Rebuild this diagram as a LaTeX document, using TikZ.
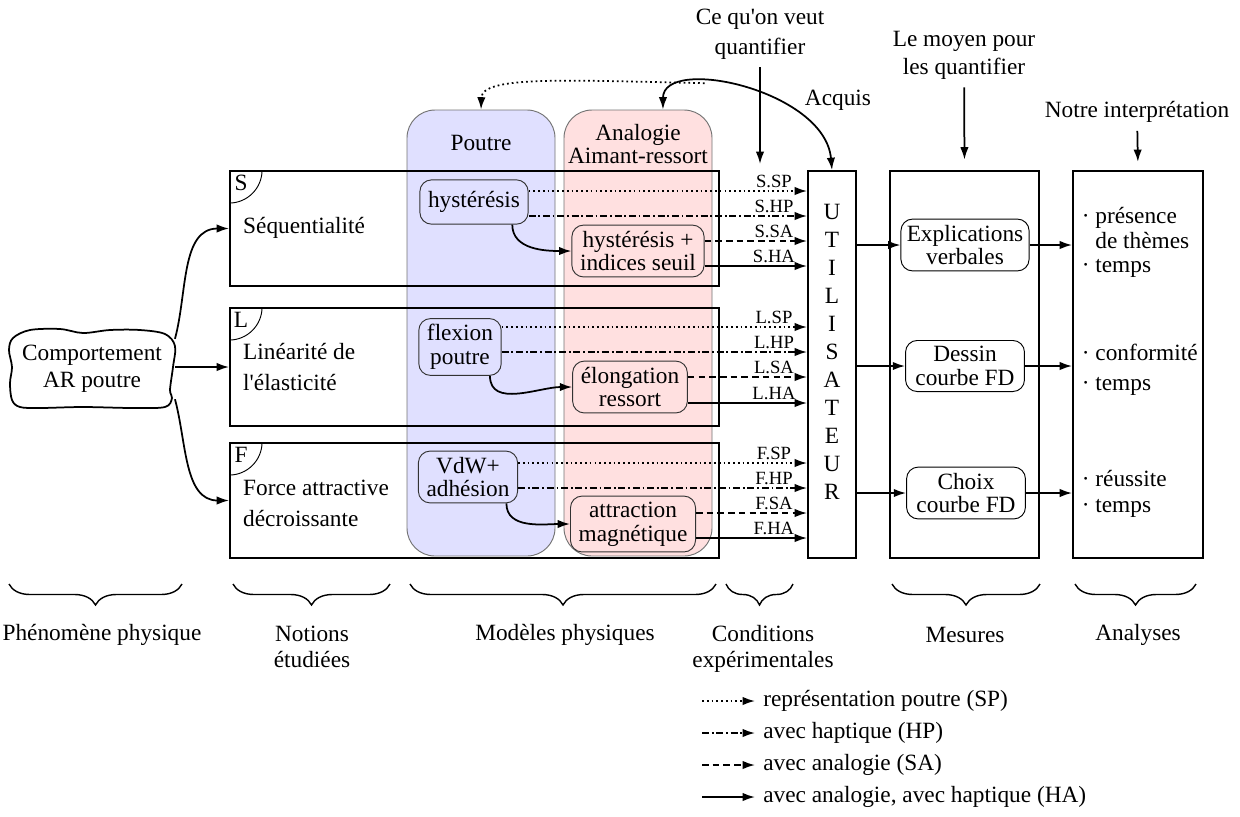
\documentclass[tikz,border=0pt]{standalone}
\usepackage{fontspec}
\setmainfont{Liberation Serif}
\usetikzlibrary{arrows.meta,positioning,fit,decorations.pathreplacing}
\tikzset{
  lx/.tip={Latex[length=5.3pt,width=3.6pt]},
  arr/.style={-lx, line width=0.75pt},
  sp/.style={arr, dash pattern=on 0.75pt off 1.3pt},
  hp/.style={arr, dash pattern=on 3pt off 1.2pt on 0.75pt off 1.2pt},
  sa/.style={arr, dash pattern=on 2.8pt off 1.8pt},
  ha/.style={arr},
  lbl/.style={pos=1, above, xshift=-14.2pt, inner sep=1pt, font=\footnotesize},
  tight/.style={align=center, font=\fontsize{10}{10.2}\selectfont},
  loose/.style={align=center, font=\fontsize{10}{12.8}\selectfont},
  notion/.style={draw, thick, inner sep=0pt},
  bigbox/.style={draw, thick, inner sep=0pt},
  colP/.style={draw=black!55, fill=blue!12, rounded corners=12pt, inner sep=0pt},
  colA/.style={draw=black!55, fill=red!12, rounded corners=12pt, inner sep=0pt},
  mdl/.style={tight, draw=black!80, rounded corners=5pt, inner xsep=3.5pt, inner ysep=2.5pt, minimum height=19pt},
  mdlP/.style={mdl, fill=blue!12},
  mdlA/.style={mdl, fill=red!12},
  mes/.style={tight, draw, fill=white, rounded corners=5pt, minimum width=51pt, inner sep=2.5pt},
  phen/.style={align=center, minimum width=70.8pt, minimum height=33.5pt, font=\fontsize{10}{11.6}\selectfont},
  brc/.style={decorate, decoration={brace, mirror, amplitude=9pt}, semithick}
}

\begin{document}
\begin{tikzpicture}[x=0.429pt, y=-0.429pt]
  \useasboundingbox (0,0) rectangle (1240,816);

  % model columns
  \node[colP, fit={(407,110) (555,556)}] (P) {};
  \node[colA, fit={(564,110) (712,556)}] (A) {};
  \node (Pt) at (481,143) {Poutre};
  \node[tight] (At) at (638,144) {Analogie\\Aimant-ressort};

  % notions
  \foreach \n/\yt/\yb in {S/171/286, L/308/426, F/443/558}{
    \node[notion, fit={(230,\yt) (719,\yb)}] (\n) {};
    \draw (\n.north west) ++(33,0) arc[start angle=0, end angle=90, radius=33];
    \node (\n l) at ([shift={(12,13)}]\n.north west) {\n};
  }
  \node[anchor=west] (St) at (235,228) {Séquentialité};
  \node[anchor=west, align=left, font=\fontsize{10}{13.3}\selectfont] (Lt) at (235,367) {Linéarité de\\l\textquotesingle élasticité};
  \node[anchor=west, align=left, font=\fontsize{10}{13.3}\selectfont] (Ft) at (235,503) {Force attractive\\décroissante};

  % phenomene
  \node[phen] (cl) at (92,369) {Comportement\\AR poutre};
  \draw[line width=0.75pt] plot[smooth cycle, tension=0.55] coordinates {
    (13,338) (30,330) (60,329) (83,333) (110,330) (140,330) (165,334) (175,346)
    (173,367) (170,390) (172,398) (165,407) (133,408) (83,407) (40,408) (20,407)
    (12,400) (10,383) (12,367) (9,350)};
  \draw[arr] (cl.20) to[out=75, in=180] (S.west);
  \draw[arr] (cl.east |- L.west) -- (L.west);
  \draw[arr] (cl.-20) to[out=-75, in=180] (F.west);

  % models
  \node[mdlP] (hys) at (474,202) {hystérésis};
  \node[mdlA] (hysA) at (638,251) {hystérésis +\\indices seuil};
  \node[mdlP] (flex) at (460,347) {flexion\\poutre};
  \node[mdlA] (elong) at (630,387) {élongation\\ressort};
  \node[mdlP] (vdw) at (468,477) {VdW+\\adhésion};
  \node[mdlA] (attr) at (633,524) {attraction\\magnétique};
  \draw[ha] ([xshift=-7pt]hys.south east) to[out=-90, in=180] (hysA.west);
  \draw[ha] ([xshift=-5pt]flex.south east) to[out=-90, in=180] (elong.west);
  \draw[ha] ([xshift=-5pt]vdw.south east) to[out=-90, in=180] (attr.west);

  % utilisateur
  \node[bigbox, fit={(808,171) (856,558)}] (U) {};
  \node[align=center] (Ut) at (832,352) {U\\T\\I\\L\\I\\S\\A\\T\\E\\U\\R};

  % conditions
  \foreach \r/\p/\a/\ya/\yb/\yc/\yd in {S/hys/hysA/191/216/241/266, L/flex/elong/327/352/377/403, F/vdw/attr/463/488/513/538}{
    \draw[sp] (\p.east |- 0,\ya) -- (U.west |- 0,\ya) node[lbl] {\r.SP};
    \draw[hp] (\p.east |- 0,\yb) -- (U.west |- 0,\yb) node[lbl] {\r.HP};
    \draw[sa] (\a.east |- 0,\yc) -- (U.west |- 0,\yc) node[lbl] {\r.SA};
    \draw[ha] (\a.east |- 0,\yd) -- (U.west |- 0,\yd) node[lbl] {\r.HA};
  }

  % acquis
  \draw[line width=0.75pt, lx-lx] ([xshift=10.7pt]A.north) .. controls (663,55) and (825,90) .. (U.north)
    coordinate[pos=0.33] (top);
  \draw[sp] (top) .. controls (560,80) and (482,76) .. (P.north);
  \node (acq) at (838,100) {Acquis};

  % mesures
  \node[bigbox, fit={(890,171) (1039,558)}] (M) {};
  \node[mes] (ex) at (965,245) {Explications\\verbales};
  \node[mes] (de) at (965,366) {Dessin\\courbe FD};
  \node[mes] (ch) at (966,493) {Choix\\courbe FD};

  % analyses
  \node[bigbox, fit={(1073,171) (1203,558)}] (An) {};
  \foreach \m in {ex,de,ch}{
    \draw[ha] (U.east |- \m) -- (\m);
    \draw[ha] (\m) -- (An.west |- \m);
  }
  \node[anchor=west, align=left, inner sep=1pt, font=\fontsize{10}{10.8}\selectfont] (a1) at (1079,228) {· présence\\\phantom{· }de thèmes};
  \node[anchor=west, inner sep=1pt] (a2) at (1079,268) {· temps};
  \node[anchor=west, inner sep=1pt] (a3) at (1079,352) {· conformité};
  \node[anchor=west, inner sep=1pt] (a4) at (1079,386) {· temps};
  \node[anchor=west, inner sep=1pt] (a5) at (1079,478) {· réussite};
  \node[anchor=west, inner sep=1pt] (a6) at (1079,508) {· temps};

  % top labels
  \node[loose] (cq) at (760,34) {Ce qu\textquotesingle on veut\\quantifier};
  \coordinate (cqend) at (760,164);
  \draw[arr] (cq) -- (cqend);
  \node[align=center] (mp) at (964,55) {Le moyen pour\\les quantifier};
  \draw[arr, shorten >=4.5pt] (mp) -- (M.north);
  \node (ni) at (1137,112) {Notre interprétation};
  \draw[arr, shorten >=3.5pt] (ni) -- (An.north);

  % braces
  \foreach \xa/\xb in {9/182, 233/390, 410/716, 726/793, 892/1040, 1075/1196}
    \draw[brc] (\xa,584) -- (\xb,584);
  \node (b1) at (102,635) {Phénomène physique};
  \node[tight, font=\fontsize{10}{11}\selectfont] (b2) at (312,647) {Notions\\étudiées};
  \node (b3) at (565,635) {Modèles physiques};
  \node[tight, font=\fontsize{10}{11.2}\selectfont] (b4) at (763,649) {Conditions\\expérimentales};
  \node (b5) at (965,635) {Mesures};
  \node (b6) at (1138,635) {Analyses};

  % legend
  \foreach \i/\st/\yy/\txt in {1/sp/701/{représentation poutre (SP)}, 2/hp/733/{avec haptique (HP)}, 3/sa/765/{avec analogie (SA)}, 4/ha/797/{avec analogie, avec haptique (HA)}}{
    \node[anchor=west] (lg\i) at (755,\yy) {\txt};
    \draw[\st] (lg\i.west) ++(-53,0) -- (lg\i.west);
  }
\end{tikzpicture}
\end{document}
